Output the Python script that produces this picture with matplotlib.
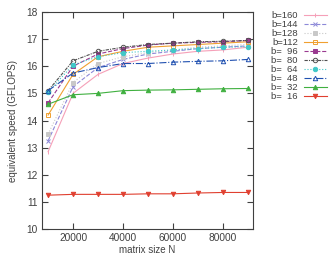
import matplotlib.pyplot as plt

# tailles de matrice (axe x)
sizes = [10000, 20000, 30000, 40000, 50000, 60000, 70000, 80000, 90000]

# vitesses, une liste par taille de bloc
b160 = [12.85, 15.0, 15.7, 16.1, 16.3, 16.45, 16.55, 16.6, 16.7]
b144 = [13.25, 15.25, 15.95, 16.25, 16.45, 16.55, 16.65, 16.7, 16.75]
b128 = [13.5, 15.4, 16.1, 16.35, 16.5, 16.6, 16.7, 16.75, 16.8]
b112 = [14.2, 15.7, 16.35, 16.55, 16.7, 16.75, 16.8, 16.85, 16.9]
b96 = [14.65, 16.0, 16.45, 16.65, 16.78, 16.85, 16.88, 16.9, 16.95]
b80 = [15.1, 16.2, 16.55, 16.7, 16.8, 16.85, 16.9, 16.92, 16.95]
b64 = [15.05, 16.05, 16.35, 16.5, 16.55, 16.6, 16.65, 16.7, 16.72]
b48 = [15.1, 15.75, 15.95, 16.1, 16.1, 16.15, 16.18, 16.2, 16.25]
b32 = [14.6, 14.95, 15.0, 15.1, 15.12, 15.13, 15.15, 15.17, 15.18]
b16 = [11.25, 11.28, 11.28, 11.28, 11.3, 11.3, 11.33, 11.35, 11.35]

# espace "chiffre" (U+2007) pour aligner les nombres comme dans l'original
labels = ['b=160', 'b=144', 'b=128', 'b=112', 'b=\u200796', 'b=\u200780',
          'b=\u200764', 'b=\u200748', 'b=\u200732', 'b=\u200716']
series = [b160, b144, b128, b112, b96, b80, b64, b48, b32, b16]

# style de chaque courbe : couleur, marqueur, trait, remplissage
styles = [
    ('#f5a0b8', '|', '-', 'full'),
    ('#8c88d8', 'x', '--', 'full'),
    ('#c8c8c8', 's', ':', 'full'),
    ('#f0a030', 's', '-', 'none'),
    ('#9a3a90', 's', '--', 'full'),
    ('#505050', 'o', (0, (3, 1, 1, 1)), 'none'),
    ('#40c8c8', 'o', ':', 'full'),
    ('#2050b0', '^', '-.', 'none'),
    ('#40b040', '^', '-', 'full'),
    ('#e04030', 'v', '-', 'full'),
]

plt.rcParams['font.family'] = ['Liberation Sans', 'DejaVu Sans']
plt.rcParams['font.size'] = 7

fig = plt.figure(figsize=(3.34, 2.54), dpi=100)
ax = fig.add_axes([0.126, 0.098, 0.631, 0.855])

for lab, ys, (c, m, ls, fs) in zip(labels, series, styles):
    ax.plot(sizes, ys, color=c, marker=m, linestyle=ls, linewidth=0.8,
            markersize=3.2, fillstyle=fs, markeredgewidth=0.7, label=lab)

ax.set_xlim(7600, 92000)
ax.set_ylim(10, 18)
ax.set_xticks([20000, 40000, 60000, 80000])
ax.set_yticks(range(10, 19))
ax.tick_params(direction='in', top=True, right=True, length=4, colors='#404040',
               labelcolor='#404040', labelsize=7.3, pad=3)
for sp in ax.spines.values():
    sp.set_color('#404040')
ax.set_xlabel('matrix size N', color='#404040', fontsize=7, labelpad=1)
ax.set_ylabel('equivalent speed (GFLOPS)', color='#404040', fontsize=7, labelpad=6)

leg = ax.legend(loc='upper left', bbox_to_anchor=(1.07, 1.02), frameon=False,
                fontsize=6.8, handlelength=2.5, labelspacing=0.0, handletextpad=0.6,
                markerfirst=False, borderaxespad=0)
for t in leg.get_texts():
    t.set_color('#404040')

fig.savefig('out.png', dpi=100)
